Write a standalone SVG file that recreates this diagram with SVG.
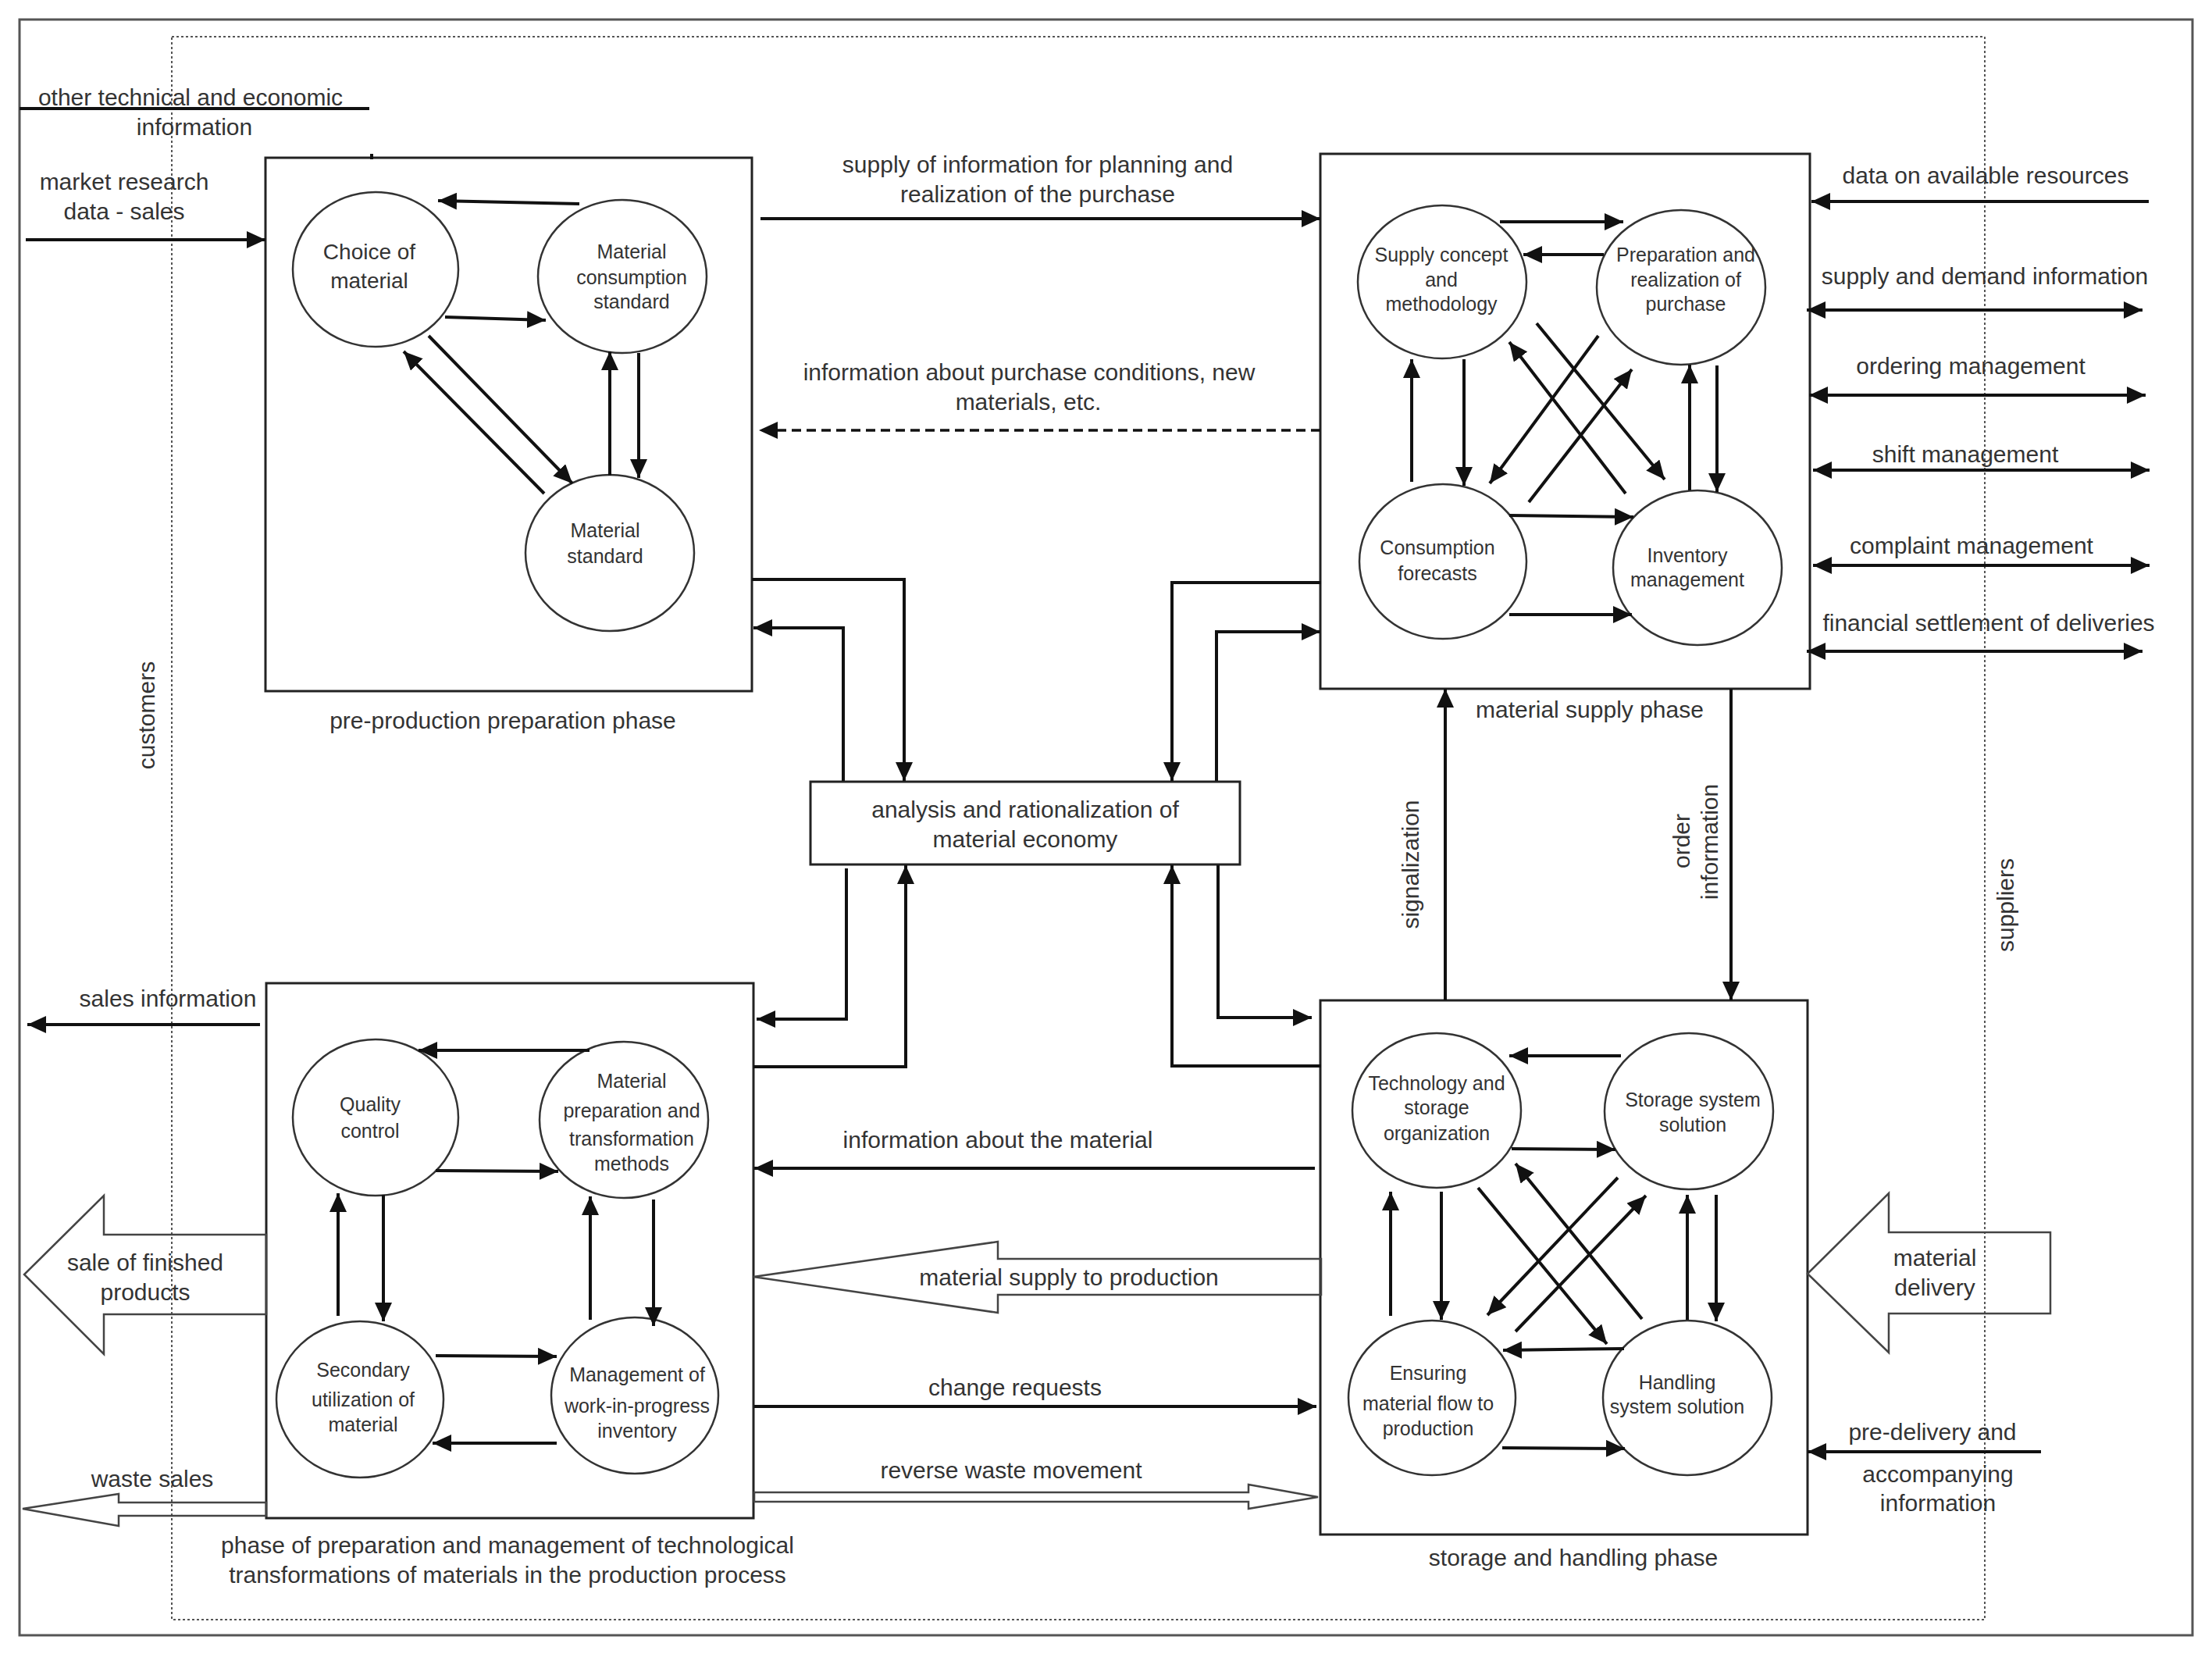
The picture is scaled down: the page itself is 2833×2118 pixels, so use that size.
<svg xmlns="http://www.w3.org/2000/svg" width="2833" height="2118" viewBox="0 0 2833 2118">
<defs>
<marker id="ah" markerUnits="userSpaceOnUse" markerWidth="24" markerHeight="22" refX="24" refY="11" orient="auto-start-reverse" viewBox="0 0 24 22">
<path d="M0,0 L24,11 L0,22 z" fill="#111"/>
</marker>
<style>
.lbl{font-family:"Liberation Sans",Arial,sans-serif;font-size:30px;fill:#333;text-anchor:middle}
.ct{font-family:"Liberation Sans",Arial,sans-serif;font-size:25px;fill:#333;text-anchor:middle}
.box{fill:none;stroke:#222;stroke-width:3}
.el{fill:#fff;stroke:#333;stroke-width:2.5}
.ar{fill:none;stroke:#111;stroke-width:4;marker-end:url(#ah)}
.da{fill:none;stroke:#111;stroke-width:4;marker-start:url(#ah);marker-end:url(#ah)}
.dash{fill:none;stroke:#111;stroke-width:3.5;stroke-dasharray:12,7;marker-end:url(#ah)}
.ln{fill:none;stroke:#111;stroke-width:4}
.hol{fill:none;stroke:#444;stroke-width:2.5}
</style>
</defs>
<rect width="2833" height="2118" fill="#fff"/>
<rect x="25" y="25" width="2783" height="2069" fill="none" stroke="#555" stroke-width="3"/>
<rect x="220" y="47" width="2322" height="2027" fill="none" stroke="#555" stroke-width="2" stroke-dasharray="3,3"/>

<g id="external-labels">
<text class="lbl" x="244" y="135">other technical and economic</text>
<text class="lbl" x="249" y="173">information</text>
<text class="lbl" x="159" y="243">market research</text>
<text class="lbl" x="159" y="281">data - sales</text>
<text class="lbl" transform="rotate(-90 188 916)" x="188" y="926">customers</text>
<text class="lbl" transform="rotate(-90 2569 1159)" x="2569" y="1169">suppliers</text>
<text class="lbl" x="215" y="1289">sales information</text>
<text class="lbl" x="186" y="1627">sale of finished</text>
<text class="lbl" x="186" y="1665">products</text>
<text class="lbl" x="195" y="1904">waste sales</text>
<text class="lbl" x="2543" y="235">data on available resources</text>
<text class="lbl" x="2542" y="364">supply and demand information</text>
<text class="lbl" x="2524" y="479">ordering management</text>
<text class="lbl" x="2517" y="592">shift management</text>
<text class="lbl" x="2525" y="709">complaint management</text>
<text class="lbl" x="2547" y="808">financial settlement of deliveries</text>
<text class="lbl" x="2478" y="1621">material</text>
<text class="lbl" x="2478" y="1659">delivery</text>
<text class="lbl" x="2475" y="1844">pre-delivery and</text>
<text class="lbl" x="2482" y="1898">accompanying</text>
<text class="lbl" x="2482" y="1935">information</text>
</g>

<g id="pre-production">
<rect class="box" x="340" y="202" width="623" height="683"/>
<line x1="476" y1="197" x2="476" y2="204" stroke="#111" stroke-width="4"/>
<text class="lbl" x="644" y="933">pre-production preparation phase</text>
<g id="choice-of-material"><ellipse class="el" cx="481" cy="345" rx="106" ry="99"/><text class="ct" style="font-size:28px" x="473" y="332">Choice of</text><text class="ct" style="font-size:28px" x="473" y="369">material</text></g>
<g id="material-consumption-standard"><ellipse class="el" cx="797" cy="354" rx="108" ry="98"/><text class="ct" x="809" y="331">Material</text><text class="ct" x="809" y="364">consumption</text><text class="ct" x="809" y="395">standard</text></g>
<g id="material-standard"><ellipse class="el" cx="781" cy="708" rx="108" ry="100"/><text class="ct" x="775" y="688">Material</text><text class="ct" x="775" y="721">standard</text></g>
</g>

<g id="material-supply">
<rect class="box" x="1691" y="197" width="627" height="685"/>
<text class="lbl" x="2036" y="919">material supply phase</text>
<g id="supply-concept"><ellipse class="el" cx="1847" cy="361" rx="108" ry="98"/><text class="ct" x="1846" y="335">Supply concept</text><text class="ct" x="1846" y="367">and</text><text class="ct" x="1846" y="398">methodology</text></g>
<g id="preparation-purchase"><ellipse class="el" cx="2153" cy="368" rx="108" ry="99"/><text class="ct" x="2159" y="335">Preparation and</text><text class="ct" x="2159" y="367">realization of</text><text class="ct" x="2159" y="398">purchase</text></g>
<g id="consumption-forecasts"><ellipse class="el" cx="1848" cy="719" rx="107" ry="99"/><text class="ct" x="1841" y="710">Consumption</text><text class="ct" x="1841" y="743">forecasts</text></g>
<g id="inventory-management"><ellipse class="el" cx="2174" cy="727" rx="108" ry="99"/><text class="ct" x="2161" y="720">Inventory</text><text class="ct" x="2161" y="751">management</text></g>
</g>

<g id="analysis">
<rect class="box" x="1038" y="1001" width="550" height="106"/>
<text class="lbl" x="1313" y="1047">analysis and rationalization of</text>
<text class="lbl" x="1313" y="1085">material economy</text>
</g>

<g id="production">
<rect class="box" x="341" y="1259" width="624" height="685"/>
<text class="lbl" x="650" y="1989">phase of preparation and management of technological</text>
<text class="lbl" x="650" y="2027">transformations of materials in the production process</text>
<g id="quality-control"><ellipse class="el" cx="481" cy="1431" rx="106" ry="100"/><text class="ct" x="474" y="1423">Quality</text><text class="ct" x="474" y="1457">control</text></g>
<g id="material-preparation"><ellipse class="el" cx="799" cy="1434" rx="108" ry="100"/><text class="ct" x="809" y="1393">Material</text><text class="ct" x="809" y="1431">preparation and</text><text class="ct" x="809" y="1467">transformation</text><text class="ct" x="809" y="1499">methods</text></g>
<g id="secondary-utilization"><ellipse class="el" cx="461" cy="1792" rx="107" ry="100"/><text class="ct" x="465" y="1763">Secondary</text><text class="ct" x="465" y="1801">utilization of</text><text class="ct" x="465" y="1833">material</text></g>
<g id="wip-inventory"><ellipse class="el" cx="813" cy="1787" rx="107" ry="100"/><text class="ct" x="816" y="1769">Management of</text><text class="ct" x="816" y="1809">work-in-progress</text><text class="ct" x="816" y="1841">inventory</text></g>
</g>

<g id="storage">
<rect class="box" x="1691" y="1281" width="624" height="684"/>
<text class="lbl" x="2015" y="2005">storage and handling phase</text>
<g id="technology-storage"><ellipse class="el" cx="1840" cy="1422" rx="108" ry="99"/><text class="ct" x="1840" y="1396">Technology and</text><text class="ct" x="1840" y="1427">storage</text><text class="ct" x="1840" y="1460">organization</text></g>
<g id="storage-system"><ellipse class="el" cx="2163" cy="1423" rx="108" ry="100"/><text class="ct" x="2168" y="1417">Storage system</text><text class="ct" x="2168" y="1449">solution</text></g>
<g id="ensuring-flow"><ellipse class="el" cx="1834" cy="1790" rx="107" ry="99"/><text class="ct" x="1829" y="1767">Ensuring</text><text class="ct" x="1829" y="1806">material flow to</text><text class="ct" x="1829" y="1838">production</text></g>
<g id="handling-system"><ellipse class="el" cx="2161" cy="1790" rx="108" ry="99"/><text class="ct" x="2148" y="1779">Handling</text><text class="ct" x="2148" y="1810">system solution</text></g>
</g>

<g id="connectors">
<line class="ln" x1="25" y1="139" x2="473" y2="139"/>
<path class="ar" d="M33,307 L340,307"/>
<path class="ar" d="M742,261 L561,257"/>
<path class="ar" d="M570,406 L699,410"/>
<path class="ar" d="M549,430 L733,619"/>
<path class="ar" d="M697,632 L517,450"/>
<path class="ar" d="M781,609 L781,450"/>
<path class="ar" d="M818,452 L818,612"/>

<text class="lbl" x="1329" y="221">supply of information for planning and</text>
<text class="lbl" x="1329" y="259">realization of the purchase</text>
<path class="ar" d="M974,280 L1691,280"/>
<text class="lbl" x="1318" y="487">information about purchase conditions, new</text>
<text class="lbl" x="1317" y="525">materials, etc.</text>
<path class="dash" d="M1691,551 L972,551"/>

<path class="ar" d="M1921,284 L2079,284"/>
<path class="ar" d="M2054,326 L1951,326"/>
<path class="ar" d="M1808,617 L1808,460"/>
<path class="ar" d="M1875,460 L1875,622"/>
<path class="ar" d="M2047,430 L1908,619"/>
<path class="ar" d="M1958,643 L2090,473"/>
<path class="ar" d="M2082,632 L1933,438"/>
<path class="ar" d="M1968,414 L2132,614"/>
<path class="ar" d="M2164,628 L2164,467"/>
<path class="ar" d="M2199,468 L2199,630"/>
<path class="ar" d="M1933,660 L2092,662"/>
<path class="ar" d="M1933,787 L2090,787"/>

<path class="ar" d="M2752,258 L2320,258"/>
<path class="da" d="M2314,397 L2744,397"/>
<path class="da" d="M2317,506 L2748,506"/>
<path class="da" d="M2322,602 L2753,602"/>
<path class="da" d="M2322,724 L2753,724"/>
<path class="da" d="M2314,834 L2744,834"/>

<path class="ar" d="M963,742 H1158 V1000"/>
<path class="ar" d="M1080,1000 V804 H965"/>
<path class="ar" d="M1692,746 H1501 V1000"/>
<path class="ar" d="M1558,1000 V809 H1691"/>
<path class="ar" d="M1084,1112 V1305 H969"/>
<path class="ar" d="M965,1366 H1160 V1108"/>
<path class="ar" d="M1560,1108 V1303 H1680"/>
<path class="ar" d="M1692,1365 H1501 V1108"/>

<path class="ar" d="M1851,1281 V882"/>
<text class="lbl" transform="rotate(-90 1807 1107)" x="1807" y="1117">signalization</text>
<path class="ar" d="M2217,882 V1281"/>
<text class="lbl" transform="rotate(-90 2154 1077)" x="2154" y="1087">order</text>
<text class="lbl" transform="rotate(-90 2190 1078)" x="2190" y="1088">information</text>

<path class="ar" d="M755,1345 L536,1345"/>
<path class="ar" d="M558,1499 L715,1500"/>
<path class="ar" d="M433,1685 L433,1528"/>
<path class="ar" d="M491,1530 L491,1692"/>
<path class="ar" d="M756,1690 L756,1532"/>
<path class="ar" d="M837,1536 L837,1698"/>
<path class="ar" d="M558,1736 L713,1737"/>
<path class="ar" d="M713,1848 L554,1848"/>

<path class="ar" d="M333,1312 L35,1312"/>
<polygon class="hol" points="341,1581 133,1581 133,1531 31,1632 133,1734 133,1683 341,1683"/>
<polygon class="hol" points="341,1924 152,1924 152,1913 29,1932 152,1954 152,1941 341,1941"/>

<text class="lbl" x="1278" y="1470">information about the material</text>
<path class="ar" d="M1684,1496 L966,1496"/>
<polygon class="hol" points="1692,1612 1278,1612 1278,1590 965,1635 1278,1681 1278,1658 1692,1658"/>
<text class="lbl" x="1369" y="1646">material supply to production</text>
<text class="lbl" x="1300" y="1787">change requests</text>
<path class="ar" d="M966,1801 L1686,1801"/>
<text class="lbl" x="1295" y="1893">reverse waste movement</text>
<polygon class="hol" points="966,1911 1599,1911 1599,1901 1688,1917 1599,1932 1599,1923 966,1923"/>

<path class="ar" d="M2076,1352 L1933,1352"/>
<path class="ar" d="M1936,1471 L2069,1472"/>
<path class="ar" d="M1781,1685 L1781,1526"/>
<path class="ar" d="M1846,1526 L1846,1690"/>
<path class="ar" d="M1893,1521 L2058,1721"/>
<path class="ar" d="M2103,1689 L1941,1490"/>
<path class="ar" d="M2072,1508 L1905,1684"/>
<path class="ar" d="M1941,1705 L2108,1531"/>
<path class="ar" d="M2161,1690 L2161,1530"/>
<path class="ar" d="M2198,1530 L2198,1692"/>
<path class="ar" d="M2080,1727 L1925,1729"/>
<path class="ar" d="M1924,1854 L2081,1855"/>

<polygon class="hol" points="2626,1578 2419,1578 2419,1528 2315,1631 2419,1732 2419,1682 2626,1682"/>
<path class="ar" d="M2614,1859 L2315,1859"/>
</g>
</svg>
